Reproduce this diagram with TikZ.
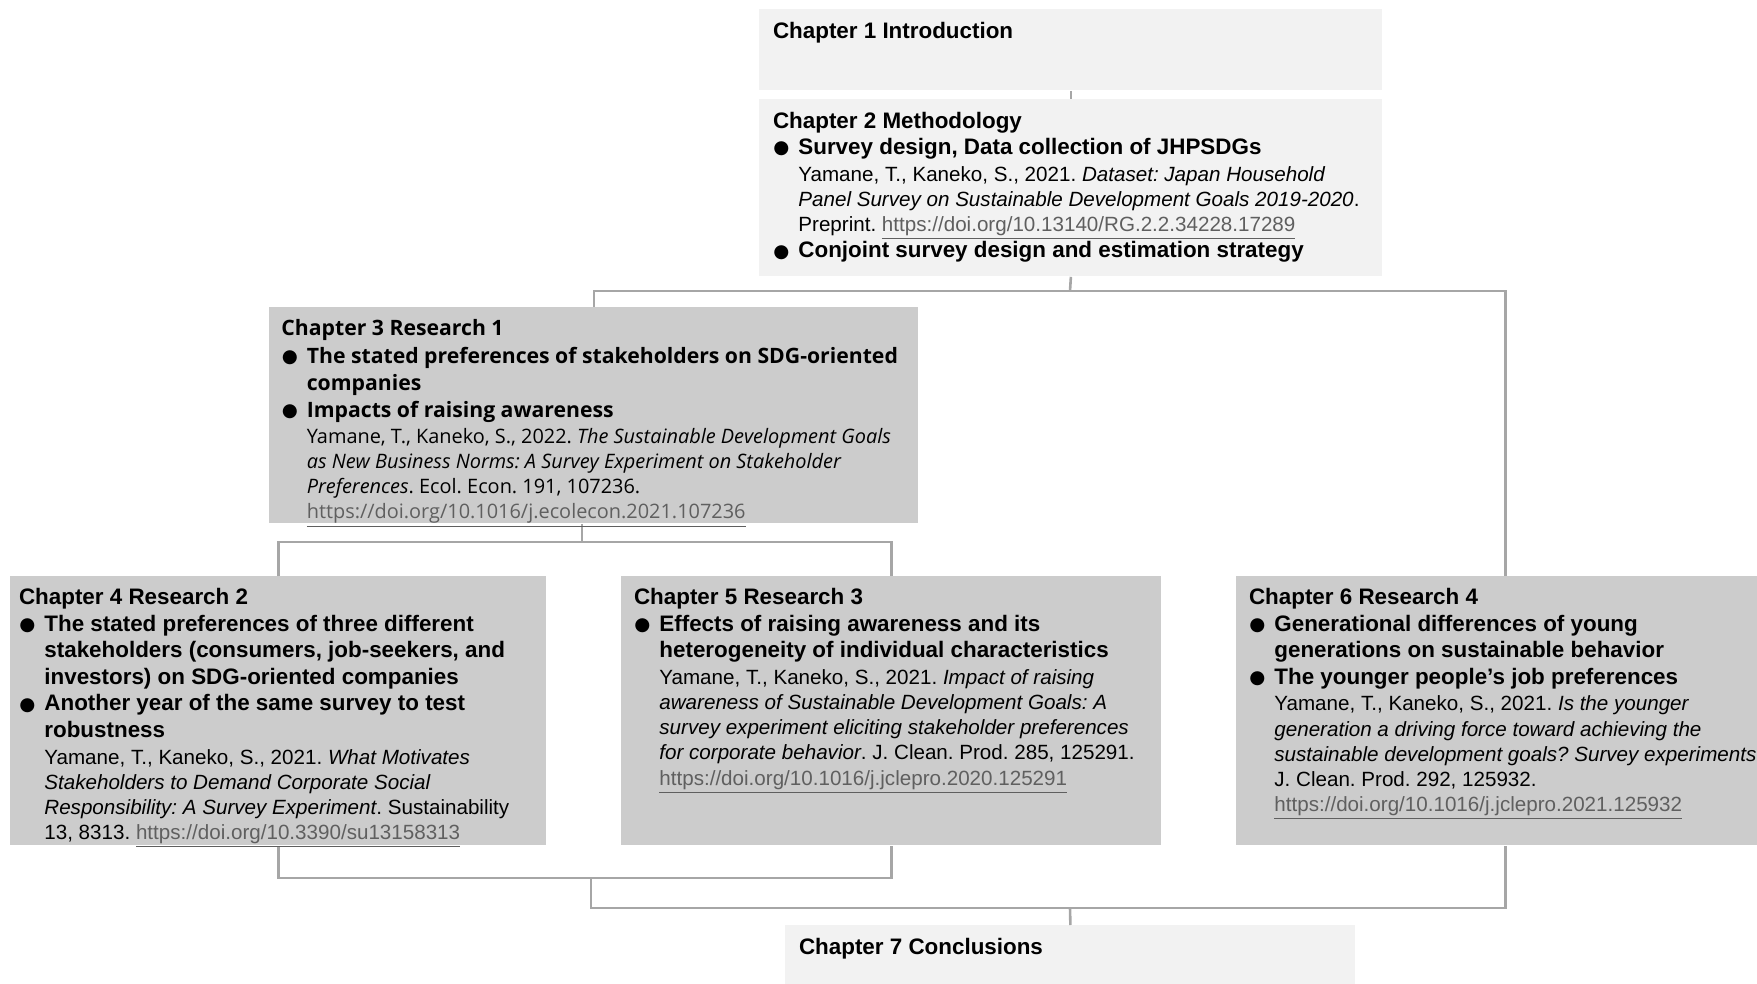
\documentclass[tikz,border=0pt]{standalone}
\usepackage{fontspec}
\setmainfont{Liberation Sans}
\newfontfamily\segoe{Open Sans}
\newfontfamily\dv{DejaVu Sans}
\definecolor{lightfill}{HTML}{F2F2F2}
\definecolor{darkfill}{HTML}{CCCCCC}
\definecolor{linegray}{HTML}{A6A6A6}
\definecolor{urlgray}{HTML}{5F5F5F}
\newcommand{\bul}{\makebox[12.7pt][l]{\hspace{0.2pt}\raisebox{0.4pt}{\dv\fontsize{9.2}{9.2}\selectfont ●}}}
\newcommand{\ii}{\hspace*{12.7pt}}
\newcommand{\lnk}[1]{\textcolor{urlgray}{\underline{#1}}}
\newcommand{\st}{\rule{0pt}{10pt}}
\newcommand{\hb}[1]{{\fontsize{11.2}{12.6}\selectfont\bfseries #1}}
\newcommand{\sbold}[1]{{\fontsize{10.6}{13}\selectfont\bfseries #1}}
\frenchspacing
\begin{document}
\begin{tikzpicture}[x=0.5pt,y=-0.5pt,
  lbox/.style={draw=none,fill=lightfill,anchor=north west,inner sep=0pt},
  dbox/.style={draw=none,fill=darkfill,anchor=north west,inner sep=0pt},
  txt/.style={anchor=north west,inner sep=0pt,align=left,font=\frenchspacing\fontsize{10.3}{12.6}\selectfont},
  txtb/.style={anchor=north west,inner sep=0pt,align=left,font=\segoe\frenchspacing\fontsize{9.95}{12.5}\selectfont},
  conn/.style={draw=linegray,line width=1.3pt}]
\useasboundingbox (0,0) rectangle (1757,984);
% boxes
\node[lbox,minimum width=311.5pt,minimum height=40.5pt] (b1) at (759,9) {};
\node[lbox,minimum width=311.5pt,minimum height=88.5pt] (b2) at (759,99) {};
\node[dbox,minimum width=324.5pt,minimum height=108pt] (b3) at (269,307) {};
\node[dbox,minimum width=268pt,minimum height=134.5pt] (b4) at (10,576) {};
\node[dbox,minimum width=270pt,minimum height=134.5pt] (b5) at (621,576) {};
\node[dbox,minimum width=269pt,minimum height=134.5pt] (b6) at (1236,576) {};
\node[lbox,minimum width=285pt,minimum height=35pt] (b7) at (785,925) {};
% connectors
\coordinate (j1) at (1070,291);
\coordinate (j2) at (582,542);
\coordinate (j3) at (591,878);
\coordinate (j4) at (1070,908);
\draw[conn] (b1.south) -- (b2.north);
\draw[conn] (b2.south) -- (j1);
\draw[conn] (b3.north) |- (j1) -| (b6.north);
\draw[conn] (j2 |- b3.south) -- (j2);
\draw[conn] (b4.north) |- (j2) -| (b5.north);
\draw[conn] (b4.south) |- (j3) -| (b5.south);
\draw[conn] (j3) |- (j4);
\draw[conn] (b6.south) |- (j4);
\draw[conn] (j4) -- (b7.north);
% texts
\node[txt] (t1) at ([shift={(6.8pt,-4.5pt)}]b1.north west) {\st\hb{Chapter 1 Introduction}};
\node[txt] (t2) at ([shift={(6.8pt,-4.5pt)}]b2.north west) {\st\hb{Chapter 2 Methodology}\\[0.6pt]
\bul\hb{Survey design, Data collection of JHPSDGs}\\[0.6pt]
\ii Yamane, T., Kaneko, S., 2021. \textit{Dataset: Japan Household}\\
\ii\textit{Panel Survey on Sustainable Development Goals 2019-2020}.\\
\ii Preprint. \lnk{https://doi.org/10.13140/RG.2.2.34228.17289}\\[0.6pt]
\bul\hb{Conjoint survey design and estimation strategy}};
\node[txtb] (t3) at ([shift={(6pt,-4pt)}]b3.north west) {\st\sbold{Chapter 3 Research 1}\\[1.5pt]
\bul\sbold{The stated preferences of stakeholders on SDG-oriented}\\[0.95pt]
\ii\sbold{companies}\\[0.95pt]
\bul\sbold{Impacts of raising awareness}\\[0.4pt]
\ii Yamane, T., Kaneko, S., 2022. \textit{The Sustainable Development Goals}\\[0.4pt]
\ii\textit{as New Business Norms: A Survey Experiment on Stakeholder}\\
\ii\textit{Preferences}. Ecol. Econ. 191, 107236.\\
\ii\lnk{https://doi.org/10.1016/j.ecolecon.2021.107236}};
\node[txt] (t4) at ([shift={(4.3pt,-4pt)}]b4.north west) {\st\hb{Chapter 4 Research 2}\\[0.7pt]
\bul\hb{The stated preferences of three different}\\[0.7pt]
\ii\hb{stakeholders (consumers, job-seekers, and}\\[0.7pt]
\ii\hb{investors) on SDG-oriented companies}\\[0.7pt]
\bul\hb{Another year of the same survey to test}\\[0.7pt]
\ii\hb{robustness}\\[0.7pt]
\ii Yamane, T., Kaneko, S., 2021. \textit{What Motivates}\\
\ii\textit{Stakeholders to Demand Corporate Social}\\
\ii\textit{Responsibility: A Survey Experiment}. Sustainability\\
\ii 13, 8313. \lnk{https://doi.org/10.3390/su13158313}};
\node[txt] (t5) at ([shift={(6.3pt,-4pt)}]b5.north west) {\st\hb{Chapter 5 Research 3}\\[0.7pt]
\bul\hb{Effects of raising awareness and its}\\[0.7pt]
\ii\hb{heterogeneity of individual characteristics}\\[0.7pt]
\ii Yamane, T., Kaneko, S., 2021. \textit{Impact of raising}\\
\ii\textit{awareness of Sustainable Development Goals: A}\\
\ii\textit{survey experiment eliciting stakeholder preferences}\\
\ii\textit{for corporate behavior}. J. Clean. Prod. 285, 125291.\\
\ii\lnk{https://doi.org/10.1016/j.jclepro.2020.125291}};
\node[txt] (t6) at ([shift={(6.3pt,-4pt)}]b6.north west) {\st\hb{Chapter 6 Research 4}\\[0.7pt]
\bul\hb{Generational differences of young}\\[0.7pt]
\ii\hb{generations on sustainable behavior}\\[0.7pt]
\bul\hb{The younger people’s job preferences}\\[0.7pt]
\ii Yamane, T., Kaneko, S., 2021. \textit{Is the younger}\\
\ii\textit{generation a driving force toward achieving the}\\
\ii\textit{sustainable development goals? Survey experiments}\\
\ii J. Clean. Prod. 292, 125932.\\
\ii\lnk{https://doi.org/10.1016/j.jclepro.2021.125932}};
\node[txt] (t7) at ([shift={(6.8pt,-4.5pt)}]b7.north west) {\st\hb{Chapter 7 Conclusions}};
\end{tikzpicture}
\end{document}
